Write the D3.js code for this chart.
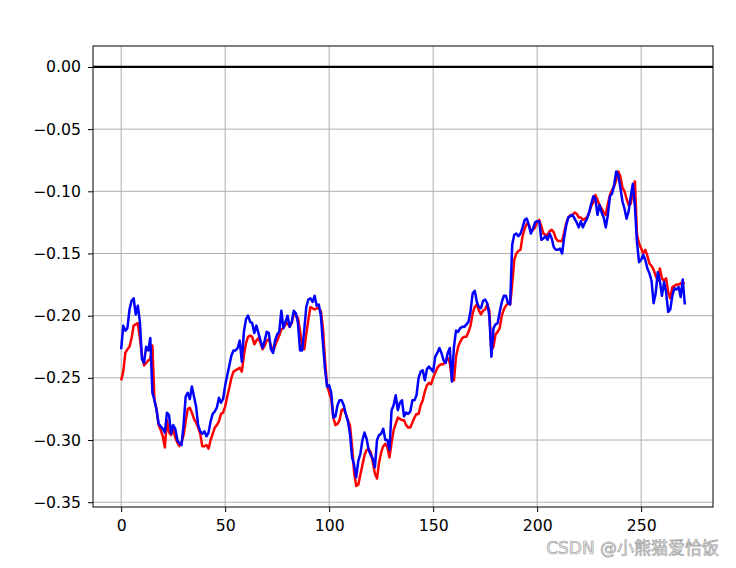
<!DOCTYPE html>
<html>
<head>
<meta charset="utf-8">
<script src="https://cdn.jsdelivr.net/npm/d3@7"></script>
<style>
  body { margin: 0; background: #fff; }
  text { font-family: "DejaVu Sans", sans-serif; }
</style>
</head>
<body>
<script>
// values, one per step (0..271)
const blue = [
  -0.227,-0.208,-0.212,-0.210,-0.195,-0.188,-0.186,-0.199,-0.192,-0.205,
  -0.235,-0.238,-0.225,-0.228,-0.218,-0.262,-0.268,-0.276,-0.287,-0.289,
  -0.291,-0.294,-0.278,-0.280,-0.295,-0.288,-0.291,-0.300,-0.303,-0.304,
  -0.288,-0.265,-0.262,-0.267,-0.257,-0.265,-0.273,-0.288,-0.293,-0.295,
  -0.293,-0.297,-0.294,-0.285,-0.279,-0.277,-0.274,-0.266,-0.270,-0.267,
  -0.256,-0.248,-0.240,-0.232,-0.228,-0.228,-0.226,-0.220,-0.237,-0.213,
  -0.203,-0.200,-0.205,-0.206,-0.214,-0.208,-0.214,-0.220,-0.226,-0.220,
  -0.213,-0.214,-0.227,-0.230,-0.220,-0.215,-0.213,-0.196,-0.210,-0.205,
  -0.200,-0.209,-0.205,-0.196,-0.198,-0.206,-0.228,-0.228,-0.212,-0.193,
  -0.187,-0.186,-0.189,-0.184,-0.192,-0.191,-0.200,-0.222,-0.243,-0.257,
  -0.256,-0.262,-0.282,-0.281,-0.272,-0.268,-0.268,-0.272,-0.279,-0.285,
  -0.295,-0.314,-0.320,-0.330,-0.317,-0.311,-0.300,-0.294,-0.299,-0.308,
  -0.312,-0.315,-0.322,-0.300,-0.296,-0.295,-0.291,-0.300,-0.300,-0.308,
  -0.276,-0.272,-0.264,-0.276,-0.270,-0.268,-0.281,-0.278,-0.279,-0.277,
  -0.268,-0.268,-0.264,-0.250,-0.245,-0.244,-0.252,-0.243,-0.241,-0.243,
  -0.245,-0.233,-0.230,-0.226,-0.230,-0.236,-0.238,-0.230,-0.226,-0.253,
  -0.225,-0.212,-0.213,-0.210,-0.209,-0.209,-0.207,-0.205,-0.196,-0.182,
  -0.180,-0.189,-0.193,-0.194,-0.188,-0.187,-0.190,-0.200,-0.233,-0.210,
  -0.207,-0.206,-0.197,-0.189,-0.184,-0.184,-0.190,-0.191,-0.143,-0.135,
  -0.134,-0.136,-0.134,-0.129,-0.123,-0.122,-0.127,-0.134,-0.130,-0.125,
  -0.124,-0.124,-0.139,-0.138,-0.136,-0.139,-0.134,-0.138,-0.145,-0.147,
  -0.147,-0.146,-0.150,-0.137,-0.127,-0.121,-0.120,-0.119,-0.122,-0.125,
  -0.129,-0.124,-0.129,-0.125,-0.122,-0.117,-0.110,-0.104,-0.106,-0.119,
  -0.111,-0.117,-0.121,-0.129,-0.119,-0.104,-0.102,-0.095,-0.084,-0.087,
  -0.097,-0.108,-0.114,-0.122,-0.116,-0.104,-0.094,-0.112,-0.141,-0.157,
  -0.155,-0.151,-0.155,-0.162,-0.166,-0.172,-0.190,-0.182,-0.165,-0.172,
  -0.184,-0.173,-0.181,-0.197,-0.195,-0.184,-0.178,-0.179,-0.177,-0.185,
  -0.171,-0.191
]

const red = [
  -0.252,-0.245,-0.230,-0.227,-0.225,-0.218,-0.208,-0.207,-0.206,-0.218,
  -0.232,-0.240,-0.238,-0.236,-0.235,-0.224,-0.268,-0.275,-0.288,-0.292,
  -0.297,-0.306,-0.284,-0.294,-0.296,-0.291,-0.298,-0.302,-0.305,-0.302,
  -0.296,-0.285,-0.275,-0.274,-0.278,-0.283,-0.286,-0.290,-0.295,-0.305,
  -0.305,-0.304,-0.307,-0.300,-0.295,-0.290,-0.288,-0.285,-0.279,-0.278,
  -0.273,-0.265,-0.258,-0.250,-0.245,-0.244,-0.243,-0.242,-0.245,-0.232,
  -0.222,-0.217,-0.216,-0.217,-0.223,-0.220,-0.218,-0.222,-0.227,-0.224,
  -0.220,-0.219,-0.224,-0.229,-0.224,-0.220,-0.216,-0.211,-0.210,-0.207,
  -0.206,-0.209,-0.206,-0.198,-0.200,-0.202,-0.212,-0.226,-0.227,-0.215,
  -0.203,-0.193,-0.194,-0.195,-0.194,-0.194,-0.196,-0.210,-0.236,-0.256,
  -0.262,-0.267,-0.282,-0.288,-0.287,-0.284,-0.276,-0.275,-0.279,-0.284,
  -0.288,-0.305,-0.326,-0.337,-0.336,-0.328,-0.320,-0.312,-0.308,-0.307,
  -0.310,-0.318,-0.327,-0.331,-0.318,-0.310,-0.305,-0.303,-0.306,-0.314,
  -0.302,-0.292,-0.287,-0.282,-0.283,-0.284,-0.284,-0.288,-0.290,-0.290,
  -0.286,-0.282,-0.279,-0.279,-0.272,-0.268,-0.261,-0.256,-0.254,-0.255,
  -0.250,-0.246,-0.242,-0.240,-0.239,-0.239,-0.236,-0.234,-0.238,-0.250,
  -0.252,-0.233,-0.225,-0.221,-0.218,-0.217,-0.217,-0.213,-0.208,-0.198,
  -0.193,-0.191,-0.196,-0.199,-0.196,-0.195,-0.191,-0.196,-0.228,-0.225,
  -0.215,-0.213,-0.210,-0.200,-0.195,-0.192,-0.190,-0.191,-0.175,-0.155,
  -0.150,-0.148,-0.147,-0.136,-0.130,-0.126,-0.127,-0.132,-0.131,-0.129,
  -0.125,-0.123,-0.128,-0.134,-0.135,-0.135,-0.132,-0.131,-0.133,-0.138,
  -0.140,-0.140,-0.140,-0.133,-0.126,-0.121,-0.119,-0.119,-0.117,-0.118,
  -0.121,-0.121,-0.123,-0.122,-0.121,-0.117,-0.112,-0.109,-0.103,-0.107,
  -0.111,-0.114,-0.117,-0.119,-0.110,-0.103,-0.099,-0.096,-0.091,-0.084,
  -0.088,-0.097,-0.100,-0.106,-0.111,-0.110,-0.100,-0.092,-0.135,-0.142,
  -0.146,-0.150,-0.147,-0.152,-0.158,-0.160,-0.163,-0.168,-0.172,-0.162,
  -0.170,-0.172,-0.170,-0.181,-0.186,-0.177,-0.176,-0.175,-0.175,-0.174,
  -0.174,-0.174
]

const xTicks = [0, 50, 100, 150, 200, 250]
const yTicks = [0, -0.05, -0.10, -0.15, -0.20, -0.25, -0.30, -0.35]

const width = 736
const height = 568
const margin = { top: 46, right: 23, bottom: 61, left: 93 }

const svg = d3.select("body")
  .append("svg")
  .attr("width", width)
  .attr("height", height)

svg.append("rect")
  .attr("width", width)
  .attr("height", height)
  .style("fill", "#fff")

// matplotlib style 5% padding, the zero line counts for y
const n = blue.length
const xPad = (n - 1) * 0.05
const x = d3.scaleLinear()
  .domain([-xPad, n - 1 + xPad])
  .range([margin.left, width - margin.right])

const yMin = d3.min(blue.concat(red))
const yMax = 0
const yPad = (yMax - yMin) * 0.05
const y = d3.scaleLinear()
  .domain([yMin - yPad, yMax + yPad])
  .range([height - margin.bottom, margin.top])

const fmt = v => d3.format(".2f")(v).replace("-", "\u2212")

// grid
svg.append("g")
  .selectAll("line")
  .data(xTicks)
  .enter()
  .append("line")
  .attr("x1", d => x(d)).attr("x2", d => x(d))
  .attr("y1", margin.top).attr("y2", height - margin.bottom)
  .style("stroke", "#b0b0b0")
  .style("stroke-width", 1)

svg.append("g")
  .selectAll("line")
  .data(yTicks)
  .enter()
  .append("line")
  .attr("x1", margin.left).attr("x2", width - margin.right)
  .attr("y1", d => y(d)).attr("y2", d => y(d))
  .style("stroke", "#b0b0b0")
  .style("stroke-width", 1)

// series
const line = d3.line()
  .x((d, i) => x(i))
  .y(d => y(d))

svg.append("path")
  .datum(red)
  .attr("d", line)
  .style("fill", "none")
  .style("stroke", "#ff0000")
  .style("stroke-width", 2.5)
  .style("stroke-linejoin", "round")

svg.append("path")
  .datum(blue)
  .attr("d", line)
  .style("fill", "none")
  .style("stroke", "#0000ff")
  .style("stroke-width", 2.5)
  .style("stroke-linejoin", "round")

// zero line
svg.append("line")
  .attr("x1", margin.left).attr("x2", width - margin.right)
  .attr("y1", y(0)).attr("y2", y(0))
  .style("stroke", "#000")
  .style("stroke-width", 2.2)

// frame
svg.append("rect")
  .attr("x", margin.left)
  .attr("y", margin.top)
  .attr("width", width - margin.left - margin.right)
  .attr("height", height - margin.top - margin.bottom)
  .style("fill", "none")
  .style("stroke", "#000")
  .style("stroke-width", 1)

// axes
const xAxis = d3.axisBottom(x).tickValues(xTicks).tickSize(5).tickPadding(8)
const yAxis = d3.axisLeft(y).tickValues(yTicks).tickSize(5).tickPadding(7).tickFormat(fmt)

const gx = svg.append("g")
  .attr("transform", `translate(0,${height - margin.bottom})`)
  .call(xAxis)
const gy = svg.append("g")
  .attr("transform", `translate(${margin.left},0)`)
  .call(yAxis)

for (const g of [gx, gy]) {
  g.select(".domain").remove()
  g.selectAll(".tick line").style("stroke", "#000")
  g.selectAll(".tick text")
    .style("font-family", "DejaVu Sans, sans-serif")
    .style("font-size", "15.7px")
    .style("fill", "#000")
}

// watermark
svg.append("text")
  .attr("x", 719)
  .attr("y", 554)
  .attr("text-anchor", "end")
  .text("CSDN @小熊猫爱恰饭")
  .style("font-family", "DejaVu Sans, Noto Sans CJK SC, sans-serif")
  .style("font-size", "17px")
  .style("fill", "#f4f4f4")
  .style("stroke", "#a0a0a0")
  .style("stroke-width", 0.7)
</script>
</body>
</html>
